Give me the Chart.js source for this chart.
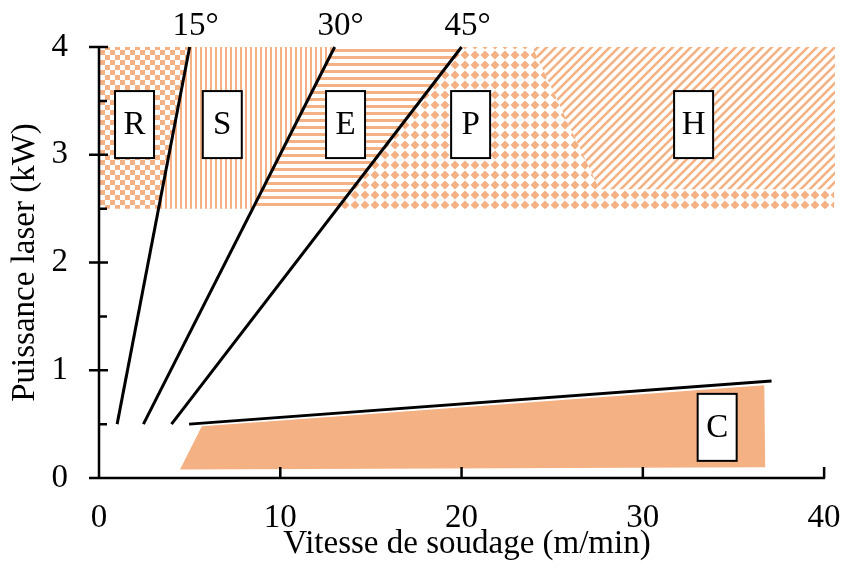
<!DOCTYPE html>
<html>
<head>
<meta charset="utf-8">
<script src="https://cdn.jsdelivr.net/npm/chart.js@4.4.1/dist/chart.umd.min.js"></script>
<style>
  html, body { margin: 0; padding: 0; background: #fff; }
  #wrap { width: 844px; height: 583px; position: relative; }
</style>
</head>
<body>
<div id="wrap"><canvas id="chart"></canvas></div>
<script>
// --- données ---
const xTicks = [0, 10, 20, 30, 40];
const yTicks = [0, 1, 2, 3, 4];
const yMinorTicks = [0.5, 1.5, 2.5, 3.5];

// droites d'angle (vitesse, puissance)
const line15 = [[1.0, 0.5], [5.0, 4.0]];
const line30 = [[2.45, 0.5], [13.0, 4.0]];
const line45 = [[4.0, 0.5], [20.0, 4.0]];
const lineC = [[4.97, 0.5], [37.1, 0.9]];
const angleLabels = ['15°', '30°', '45°'];

// zones hachurées
const regionR = [[0, 2.5], [0, 4], [5.0, 4], [3.29, 2.5]];
const regionS = [[3.29, 2.5], [5.0, 4], [13.0, 4], [8.48, 2.5]];
const regionE = [[8.48, 2.5], [13.0, 4], [20.0, 4], [13.14, 2.5]];
const regionP = [[13.14, 2.5], [20.0, 4], [23.9, 4], [27.6, 2.68], [40.55, 2.68], [40.55, 2.5]];
const regionH = [[23.9, 4], [40.6, 4], [40.6, 2.68], [27.6, 2.68]];
const regionC = [[4.47, 0.08], [5.67, 0.48], [36.7, 0.86], [36.75, 0.1]];

// étiquettes encadrées
const boxLabels = ['R', 'S', 'E', 'P', 'H', 'C'];
const boxX = [1.96, 6.8, 13.6, 20.5, 32.8, 34.1];
const boxY = [3.28, 3.28, 3.28, 3.28, 3.28, 0.47];

const orange = '#F4B183';
const serif = "'Liberation Serif', 'Times New Roman', serif";
const fontSize = 33;

const toPts = arr => arr.map(p => ({ x: p[0], y: p[1] }));

// motifs de remplissage
function makePattern(w, h, draw) {
    const c = document.createElement('canvas');
    c.width = w; c.height = h;
    const g = c.getContext('2d');
    g.fillStyle = orange;
    g.strokeStyle = orange;
    draw(g);
    return g.createPattern(c, 'repeat');
}

function diamond(g, cx, cy, r) {
    g.beginPath();
    g.moveTo(cx, cy - r); g.lineTo(cx + r, cy); g.lineTo(cx, cy + r); g.lineTo(cx - r, cy);
    g.closePath();
    g.fill();
}

const patChecker = makePattern(10, 10, g => { g.fillRect(0, 0, 5, 5); g.fillRect(5, 5, 5, 5); });
const patVertical = makePattern(5, 5, g => g.fillRect(0, 0, 2, 5));
const patHorizontal = makePattern(7, 7, g => g.fillRect(0, 0, 7, 3));
const patDiamond = makePattern(10, 10, g => diamond(g, 5, 5, 4.5));
const patDiagonal = makePattern(9, 9, g => {
    g.lineWidth = 2.6;
    g.beginPath();
    g.moveTo(-1, 10); g.lineTo(10, -1);
    g.moveTo(-5.5, 5.5); g.lineTo(5.5, -5.5);
    g.moveTo(3.5, 14.5); g.lineTo(14.5, 3.5);
    g.stroke();
});

function zone(data, fill) {
    return {
        type: 'line', data: toPts(data), backgroundColor: fill, borderWidth: 0,
        pointRadius: 0, fill: 'shape', tension: 0, order: 2
    };
}

function droite(data) {
    return {
        type: 'line', data: toPts(data), borderColor: '#000', borderWidth: 3,
        pointRadius: 0, fill: false, tension: 0, order: 1, clip: 6
    };
}

// axes, graduations et étiquettes dessinés par-dessus
const overlay = {
    id: 'overlay',
    afterDatasetsDraw(chart) {
        const { ctx } = chart;
        const x = chart.scales.x, y = chart.scales.y;
        const x0 = x.getPixelForValue(0), x40 = x.getPixelForValue(40);
        const y0 = y.getPixelForValue(0), y4 = y.getPixelForValue(4);
        ctx.save();

        // boîtes
        boxLabels.forEach((t, i) => {
            const cx = x.getPixelForValue(boxX[i]);
            const cy = y.getPixelForValue(boxY[i]);
            ctx.fillStyle = '#fff';
            ctx.fillRect(cx - 19.5, cy - 33.5, 39, 67);
            ctx.lineWidth = 2;
            ctx.strokeStyle = '#000';
            ctx.strokeRect(cx - 19.5, cy - 33.5, 39, 67);
            ctx.fillStyle = '#000';
            ctx.font = fontSize + 'px ' + serif;
            ctx.textAlign = 'center';
            ctx.textBaseline = 'middle';
            ctx.fillText(t, cx, cy + 1);
        });

        // angles
        ctx.font = fontSize + 'px ' + serif;
        ctx.textAlign = 'center';
        ctx.textBaseline = 'alphabetic';
        [line15, line30, line45].forEach((l, i) => {
            const top = l[l.length - 1];
            ctx.fillText(angleLabels[i], x.getPixelForValue(top[0]) + 6, y4 - 12);
        });

        // axes
        ctx.strokeStyle = '#000';
        ctx.lineWidth = 2.5;
        ctx.beginPath();
        ctx.moveTo(x0, y4 - 1); ctx.lineTo(x0, y0);
        ctx.moveTo(x0 - 10, y0); ctx.lineTo(x40 + 1, y0);
        yTicks.forEach(v => {
            const py = y.getPixelForValue(v);
            ctx.moveTo(x0 - 10, py); ctx.lineTo(x0 + 9, py);
        });
        yMinorTicks.forEach(v => {
            const py = y.getPixelForValue(v);
            ctx.moveTo(x0, py); ctx.lineTo(x0 + 8, py);
        });
        xTicks.filter(v => v > 0).forEach(v => {
            const px = x.getPixelForValue(v);
            ctx.moveTo(px, y0); ctx.lineTo(px, y0 - 11);
        });
        ctx.stroke();
        ctx.restore();
    }
};

new Chart(document.getElementById('chart'), {
    type: 'line',
    data: {
        datasets: [
            droite(line15), droite(line30), droite(line45), droite(lineC),
            zone(regionR, patChecker), zone(regionS, patVertical), zone(regionE, patHorizontal),
            zone(regionP, patDiamond), zone(regionH, patDiagonal),
            zone(regionC, orange)
        ]
    },
    options: {
        responsive: true,
        maintainAspectRatio: false,
        animation: false,
        layout: { padding: { top: 47, right: 9, left: 0, bottom: 0 } },
        plugins: { legend: { display: false }, tooltip: { enabled: false } },
        scales: {
            x: {
                type: 'linear', min: 0, max: 40.6,
                afterBuildTicks: s => { s.ticks = xTicks.map(v => ({ value: v })); },
                afterFit: s => { s.height = 105; s.paddingLeft = 0; s.paddingRight = 0; },
                grid: { display: false, drawTicks: false },
                border: { display: false },
                ticks: { color: '#000', font: { family: serif, size: fontSize }, padding: 21, maxRotation: 0, autoSkip: false },
                title: {
                    display: true, text: 'Vitesse de soudage (m/min)', color: '#000',
                    font: { family: serif, size: fontSize }, padding: { top: 0, bottom: 19 }
                }
            },
            y: {
                type: 'linear', min: 0, max: 4,
                afterBuildTicks: s => { s.ticks = yTicks.map(v => ({ value: v })); },
                afterFit: s => { s.width = 99; s.paddingTop = 0; s.paddingBottom = 0; },
                grid: { display: false, drawTicks: false },
                border: { display: false },
                ticks: { color: '#000', font: { family: serif, size: fontSize }, padding: 31 },
                title: {
                    display: true, text: 'Puissance laser (kW)', color: '#000',
                    font: { family: serif, size: fontSize }, padding: { top: 6, bottom: 0 }
                }
            }
        }
    },
    plugins: [overlay]
});
</script>
</body>
</html>
